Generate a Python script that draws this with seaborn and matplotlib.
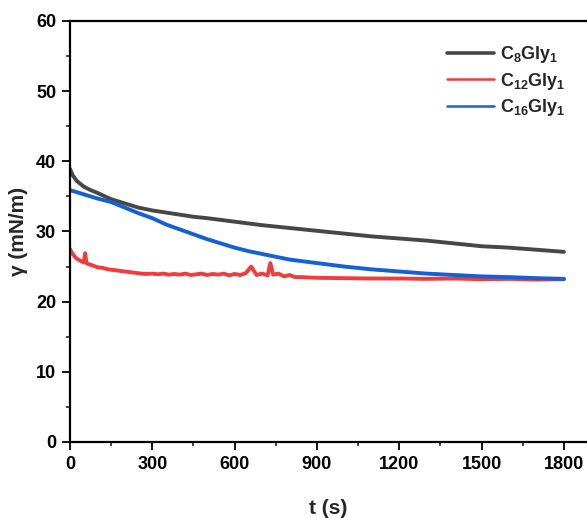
import matplotlib
matplotlib.use("Agg")
import matplotlib.pyplot as plt
import seaborn as sns
import pandas as pd
from matplotlib.ticker import MultipleLocator
from matplotlib.lines import Line2D

# ---- data ----
series_labels = [r"$\mathbf{C_{8}Gly_{1}}$", r"$\mathbf{C_{12}Gly_{1}}$", r"$\mathbf{C_{16}Gly_{1}}$"]
series_colors = ["#474747", "#f03c3c", "#1560d4"]

c8_t = [0, 10, 25, 50, 75, 100, 150, 200, 250, 300, 350, 400, 450, 500, 600, 700, 800,
        900, 1000, 1100, 1200, 1300, 1400, 1500, 1600, 1700, 1800]
c8_g = [38.9, 38.0, 37.2, 36.4, 35.9, 35.5, 34.6, 34.0, 33.4, 33.0, 32.7, 32.4, 32.1, 31.9,
        31.4, 30.9, 30.5, 30.1, 29.7, 29.3, 29.0, 28.7, 28.3, 27.9, 27.7, 27.4, 27.1]

c12_t = [0, 5, 10, 20, 30, 40, 50, 55, 60, 70, 80, 100, 120, 140, 160, 180, 200, 220, 240,
         260, 280, 300, 320, 340, 360, 380, 400, 420, 440, 460, 480, 500, 520, 540, 560,
         580, 600, 620, 640, 660, 680, 700, 720, 730, 740, 760, 780, 800, 820, 840,
         900, 1000, 1100, 1200, 1300, 1400, 1500, 1600, 1700, 1800]
c12_g = [27.5, 27.1, 26.8, 26.3, 26.0, 25.8, 25.6, 26.9, 25.5, 25.3, 25.2, 24.9, 24.8, 24.6,
         24.5, 24.4, 24.3, 24.2, 24.1, 24.0, 23.95, 24.0, 23.9, 24.0, 23.85, 23.95, 23.85, 24.0,
         23.8, 23.9, 24.0, 23.8, 23.95, 23.85, 24.0, 23.75, 23.95, 23.8, 24.05, 25.0, 23.8, 24.0,
         23.75, 25.5, 23.85, 24.0, 23.6, 23.8, 23.5, 23.5,
         23.4, 23.35, 23.3, 23.3, 23.25, 23.3, 23.2, 23.25, 23.15, 23.2]

c16_t = [0, 25, 50, 100, 150, 200, 250, 300, 350, 400, 450, 500, 550, 600, 650, 700, 800,
         900, 1000, 1100, 1200, 1300, 1400, 1500, 1600, 1700, 1800]
c16_g = [35.9, 35.6, 35.3, 34.7, 34.2, 33.4, 32.6, 31.9, 31.0, 30.3, 29.6, 28.9, 28.3, 27.7,
         27.2, 26.8, 26.0, 25.5, 25.0, 24.6, 24.3, 24.0, 23.8, 23.6, 23.5, 23.35, 23.25]

x_ticks = [0, 300, 600, 900, 1200, 1500, 1800]
y_ticks = [0, 10, 20, 30, 40, 50, 60]

df = pd.concat([
    pd.DataFrame({"t": c8_t, "gamma": c8_g, "sample": series_labels[0]}),
    pd.DataFrame({"t": c12_t, "gamma": c12_g, "sample": series_labels[1]}),
    pd.DataFrame({"t": c16_t, "gamma": c16_g, "sample": series_labels[2]}),
], ignore_index=True)

sns.set_style("ticks")
plt.rcParams["font.family"] = ["Liberation Sans", "DejaVu Sans"]
plt.rcParams["font.weight"] = "bold"
plt.rcParams["mathtext.fontset"] = "custom"
plt.rcParams["mathtext.rm"] = "Liberation Sans"
plt.rcParams["mathtext.bf"] = "Liberation Sans:bold"
plt.rcParams["mathtext.it"] = "Liberation Sans:italic"

fig = plt.figure(figsize=(5.87, 5.18), dpi=100)
ax = fig.add_axes([70 / 587, 76 / 518, 517 / 587, 421 / 518])

sns.lineplot(data=df, x="t", y="gamma", hue="sample", hue_order=series_labels,
             palette=series_colors, estimator=None, linewidth=2.8, ax=ax, legend=False)

ax.set_xlim(0, 1884)
ax.set_ylim(0, 60)
ax.set_xticks(x_ticks)
ax.set_yticks(y_ticks)
ax.xaxis.set_minor_locator(MultipleLocator(150))
ax.yaxis.set_minor_locator(MultipleLocator(5))
ax.tick_params(which="major", direction="out", length=5.5, width=1.3, pad=4.5,
               labelsize=13, colors="black")
ax.tick_params(which="minor", direction="out", length=3, width=1.2)
for lab in ax.get_xticklabels() + ax.get_yticklabels():
    lab.set_fontweight("bold")

for side in ["left", "bottom", "top"]:
    ax.spines[side].set_visible(True)
    ax.spines[side].set_linewidth(1.6)
    ax.spines[side].set_color("black")
ax.spines["right"].set_visible(False)

ax.set_xlabel("t (s)", fontsize=15, fontweight="bold", labelpad=19)
ax.set_ylabel("γ (mN/m)", fontsize=15, fontweight="bold", labelpad=6)

handles = [Line2D([0], [0], color=c, lw=2.6 if i == 0 else 1.8) for i, c in enumerate(series_colors)]
fig.legend(handles, series_labels, loc="upper left", bbox_to_anchor=(440 / 587, 1 - 37 / 518),
           frameon=False, fontsize=13, handlelength=2.6, handletextpad=0.3,
           labelspacing=0.3, borderaxespad=0)

fig.savefig("out.png", dpi=100)
